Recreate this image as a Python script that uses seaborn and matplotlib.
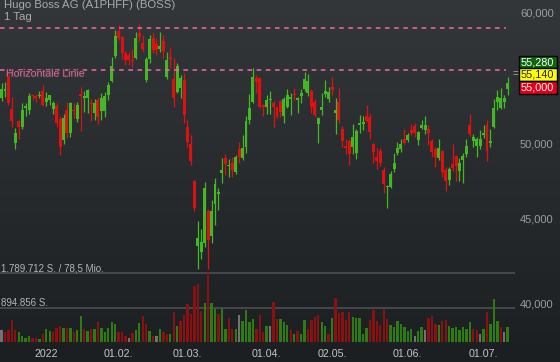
import numpy as np
import pandas as pd
import seaborn as sns
import matplotlib.pyplot as plt
from matplotlib.colors import LinearSegmentedColormap
from matplotlib.patches import Rectangle
from matplotlib.ticker import NullLocator
import matplotlib.patheffects as pe

# Hugo Boss AG, daily candles Dec 2021 - Jul 2022
open_ = [53280, 53810, 54990, 52420, 50000, 51580, 51170, 52500, 52370, 53440,
         53350, 53400, 53800, 52960, 53080, 52420, 52670, 51700, 50230, 52370,
         50740, 52350, 51700, 53550, 53290, 53220, 52910, 52120, 53110, 52300,
         52300, 53480, 54530, 56460, 58460, 57950, 56670, 56540, 56150, 56280,
         58270, 57520, 54610, 56200, 57870, 57410, 56990, 57680, 54860, 56360,
         54660, 53720, 53980, 54610, 51170, 49950, 47440, 43340, 43000, 43500,
         45500, 43950, 45950, 46610, 48000, 49020, 48450, 48630, 48010, 49600,
         49020, 49760, 51650, 52980, 54780, 54780, 52740, 52610, 53080, 52910,
         52570, 53030, 51940, 52610, 53160, 53500, 53140, 53400, 53900, 53650,
         53800, 52980, 51360, 52370, 53550, 53160, 54100, 52180, 52980, 50980,
         49740, 50180, 49720, 49350, 51290, 51360, 51940, 51890, 49950, 49080,
         49490, 48180, 47050, 47030, 48220, 49310, 49580, 50300, 50230, 50930,
         51220, 50230, 51100, 50930, 50980, 50180, 49580, 48970, 49490, 48180,
         47510, 48580, 49120, 48130, 48850, 49260, 51290, 50180, 49810, 49810,
         50580, 51290, 50000, 51170, 52980, 52500, 52980, 53900]
high = [54380, 54450, 55140, 53350, 51060, 51650, 52860, 52910, 53600, 53550,
        53550, 53810, 54230, 53700, 53500, 53030, 52890, 51940, 52050, 52980,
        52980, 52890, 52980, 54040, 53800, 53900, 53180, 53160, 53350, 53650,
        53720, 54480, 56360, 58540, 58950, 58050, 56850, 56750, 56990, 58400,
        59030, 58140, 56360, 58140, 58270, 57870, 58400, 58140, 56800, 57200,
        56280, 55890, 54990, 55120, 51650, 50580, 47500, 44880, 44360, 47400,
        45600, 46210, 47620, 46970, 48970, 49260, 48920, 49080, 49190, 50060,
        50550, 51940, 53530, 55560, 54990, 54830, 52810, 53480, 53800, 53050,
        52670, 53100, 53350, 53900, 53600, 53980, 53350, 53900, 55240, 55060,
        53900, 53160, 51890, 53600, 54610, 54100, 54860, 53220, 53980, 51220,
        50280, 50280, 51360, 50980, 52010, 51940, 52740, 52080, 50000, 49670,
        49650, 48360, 47180, 48130, 49350, 50110, 50280, 50980, 50740, 51360,
        51460, 50890, 51650, 51940, 51290, 50280, 49720, 50280, 49550, 48360,
        48400, 49950, 49190, 48970, 49350, 50280, 52080, 50650, 50420, 50930,
        51290, 51650, 50980, 53160, 53850, 53980, 53480, 54810]
low = [53030, 53330, 52740, 51170, 49600, 50300, 50970, 51940, 52080, 53110,
       52980, 53260, 52630, 52700, 52740, 52100, 51180, 49190, 49920, 50370,
       50460, 51790, 51470, 50860, 52250, 52160, 51580, 51680, 51360, 51650,
       51890, 53110, 54480, 56280, 57730, 56200, 55760, 55760, 55630, 56200,
       57680, 56800, 54480, 55940, 56720, 56540, 56800, 56280, 54660, 55500,
       52570, 53650, 53230, 51410, 49720, 48510, 45500, 41950, 42550, 43300,
       41950, 43500, 44630, 45570, 47330, 47840, 47680, 47730, 47910, 48630,
       48850, 49330, 51360, 52890, 53600, 52500, 51940, 52060, 52080, 51130,
       51790, 51890, 51410, 52500, 52010, 53110, 52180, 52910, 53800, 53400,
       52130, 51890, 50000, 52010, 53350, 52980, 53480, 50650, 51410, 49720,
       49260, 48510, 49260, 48900, 50700, 50930, 51530, 50280, 48630, 48230,
       48450, 46680, 45680, 46970, 48060, 49190, 49420, 49920, 50110, 50580,
       50460, 49880, 50980, 50650, 49880, 49080, 48360, 48850, 47690, 46810,
       47180, 48130, 47460, 47460, 47290, 49080, 50510, 49760, 49040, 49580,
       50350, 48800, 49720, 51060, 52370, 52420, 52500, 53480]
close = [53900, 53850, 52910, 51600, 50700, 51170, 52370, 52670, 53400, 53370,
         53290, 53480, 52740, 53220, 53480, 52860, 51410, 49710, 51820, 50720,
         52910, 52300, 52740, 53370, 53330, 53850, 52810, 52890, 51890, 53260,
         53400, 54230, 55680, 58050, 57870, 56720, 56150, 56150, 56070, 57870,
         58000, 56990, 56230, 57810, 56930, 56930, 57250, 56880, 56150, 56200,
         53230, 55680, 54740, 52010, 50110, 48800, 45710, 43810, 43580, 46980,
         43690, 45500, 47270, 46640, 48180, 48580, 48480, 48180, 49080, 49080,
         49670, 51580, 52540, 54860, 54480, 52610, 52570, 53110, 53110, 52570,
         51840, 52230, 53160, 53480, 53350, 53460, 53170, 53650, 54680, 54530,
         52570, 52010, 51770, 52570, 53780, 53720, 53850, 52370, 51650, 50180,
         49700, 49260, 50420, 50880, 51460, 51530, 51600, 50810, 49420, 48800,
         48670, 47250, 47070, 47910, 48630, 49650, 49950, 50000, 50580, 50740,
         50740, 50810, 51290, 51290, 50740, 49420, 49080, 49650, 48060, 47460,
         48220, 48290, 48450, 48670, 49120, 49810, 50650, 50460, 50280, 50280,
         50740, 49490, 50180, 52540, 53350, 53230, 53230, 54360]
volume = [323000, 270000, 305000, 567000, 305000, 253000, 166000, 113000, 166000, 113000,
          96000, 78000, 218000, 340000, 288000, 253000, 375000, 427000, 375000, 358000,
          358000, 253000, 305000, 672000, 340000, 288000, 340000, 340000, 532000, 358000,
          270000, 375000, 515000, 480000, 270000, 253000, 148000, 113000, 235000, 323000,
          497000, 672000, 480000, 288000, 166000, 166000, 340000, 270000, 218000, 218000,
          794000, 410000, 549000, 706000, 977000, 741000, 1457000, 1500000, 802000, 1003000,
          1789712, 1029000, 855000, 724000, 863000, 349000, 619000, 349000, 349000, 715000,
          549000, 846000, 515000, 593000, 349000, 698000, 262000, 410000, 410000, 1047000,
          611000, 611000, 523000, 436000, 305000, 218000, 288000, 201000, 584000, 349000,
          567000, 654000, 715000, 523000, 410000, 218000, 637000, 1151000, 759000, 785000,
          584000, 785000, 654000, 637000, 637000, 201000, 375000, 584000, 829000, 549000,
          436000, 872000, 611000, 436000, 392000, 541000, 480000, 392000, 288000, 349000,
          148000, 279000, 392000, 305000, 637000, 672000, 462000, 436000, 541000, 584000,
          427000, 375000, 392000, 323000, 392000, 349000, 515000, 340000, 305000, 201000,
          349000, 785000, 462000, 1108000, 541000, 392000, 270000, 392000]

holidays = ["2021-12-24", "2021-12-31", "2022-04-15", "2022-04-18"]
hline_levels = [58680, 55350]
price_ticks = [40000, 45000, 50000, 55000, 60000]
quote_values = [55280, 55140, 55000]
vol_max = 1789712
turnover_label = "78,5 Mio."

days = pd.bdate_range("2021-12-13", "2022-07-12")
days = days[~days.isin(pd.to_datetime(holidays))]

df = pd.DataFrame({"date": days, "open": open_, "high": high, "low": low,
                   "close": close, "volume": volume})
df["idx"] = np.arange(len(df))
chg = df["close"].diff()
df["dir"] = np.where(chg > 0, "up", np.where(chg < 0, "down", "flat"))

GREEN = "#42b822"
RED = "#e01010"
candle_col = np.where(df["close"] >= df["open"], GREEN, RED)

sns.set_theme(style="dark")
plt.rcParams["font.family"] = ["Liberation Sans", "DejaVu Sans"]

fig = plt.figure(figsize=(5.6, 3.62), dpi=100)

# dark gradient background
bg = fig.add_axes([0, 0, 1, 1], zorder=0)
grad = np.linspace(0, 1, 256).reshape(-1, 1)
cmap = LinearSegmentedColormap.from_list("bg", ["#33373a", "#1c1f22"])
bg.imshow(grad, aspect="auto", cmap=cmap, extent=[0, 1, 0, 1], origin="upper")
bg.axis("off")

rect = [0, 20 / 362, 515 / 560, 342 / 362]
xlim = (-0.45, 149.13)

# volume pane
axv = fig.add_axes(rect, zorder=1)
axv.patch.set_alpha(0)
sns.barplot(data=df, x="idx", y="volume", hue="dir", dodge=False, width=0.68,
            palette={"up": "#2e7a13", "down": "#8a1111", "flat": "#727272"},
            saturation=1, legend=False, linewidth=0, edgecolor="none", ax=axv)
axv.set_xlim(*xlim)
axv.set_ylim(0, vol_max * 342 / 68.7)
for v in [vol_max, vol_max / 2]:
    axv.axhline(v, color="#474b4f", lw=1.3, zorder=0)
lab_max = f"{vol_max:,}".replace(",", ".") + " S. / " + turnover_label
lab_half = f"{vol_max // 2:,}".replace(",", ".") + " S."
for v, s in [(vol_max, lab_max), (vol_max / 2, lab_half)]:
    axv.annotate(s, xy=(1 / 515, v), xycoords=("axes fraction", "data"),
                 xytext=(0, 1.2), textcoords="offset points",
                 va="baseline", ha="left", fontsize=7, color="#b4b4b4")

firsts = df[df["date"].dt.year == 2022].groupby(df["date"].dt.month).head(1)
tick_pos = firsts["idx"].tolist()
tick_lab = [str(d.year) if d.month == 1 else d.strftime("%d.%m.") for d in firsts["date"]]
axv.set_xticks(tick_pos, tick_lab)
axv.set_yticks([])
axv.set_xlabel("")
axv.set_ylabel("")
axv.tick_params(axis="x", length=0, pad=5, labelsize=7.7, labelcolor="#c4c4c4")
for sp in axv.spines.values():
    sp.set_visible(False)

# price pane (log scale)
ax = fig.add_axes(rect, zorder=2)
ax.patch.set_alpha(0)
ax.set_yscale("log")
ax.vlines(df["idx"], df["low"], df["high"], colors=candle_col, lw=0.9)
body_lo = np.minimum(df["open"], df["close"])
body_h = np.maximum((df["open"] - df["close"]).abs(), df["close"] * 0.0018)
ax.bar(df["idx"], body_h, bottom=body_lo, width=0.86, color=candle_col, linewidth=0)

for lvl in hline_levels:
    ax.axhline(lvl, xmin=0, xmax=506 / 515, color="#f06aa8", lw=1.1,
               linestyle=(0, (3, 3)))
ax.annotate("Horizontale Linie", xy=(6 / 515, hline_levels[1]),
            xycoords=("axes fraction", "data"), xytext=(0, 1.2),
            textcoords="offset points", va="top", ha="left", fontsize=7.6,
            color="#e0649f",
            path_effects=[pe.withStroke(linewidth=1.2, foreground="#3a3a3a")])

ax.set_xlim(*xlim)
ax.set_ylim(37919, 61036)
ax.set_xticks([])
ax.yaxis.tick_right()
ax.set_yticks(price_ticks, [f"{v:,}" for v in price_ticks])
ax.yaxis.set_minor_locator(NullLocator())
ax.tick_params(axis="y", length=0, pad=3.6, labelsize=8, labelcolor="#9c9c9c")
ax.grid(False)
for sp in ax.spines.values():
    sp.set_visible(False)

# titles
fig.text(4 / 560, 1.0, "Hugo Boss AG (A1PHFF) (BOSS)", va="top", ha="left",
         fontsize=8.2, color="#a9a9a9")
fig.text(4 / 560, 1 - 11.5 / 362, "1 Tag", va="top", ha="left",
         fontsize=8.2, color="#a9a9a9")

# quote boxes
box_style = [("#0b690b", "white"), ("#ffff00", "#222222"), ("#e4001a", "white")]
top = 55.7
for val, (fc, tc) in zip(quote_values, box_style):
    y0 = 1 - (top + 12.6) / 362
    fig.patches.append(Rectangle((518.5 / 560, y0), 38 / 560, 12.6 / 362,
                                 transform=fig.transFigure, facecolor=fc,
                                 edgecolor="black", lw=1.0, zorder=5))
    fig.text(537.5 / 560, y0 + 6.0 / 362, f"{val:,}", ha="center", va="center",
             fontsize=7.8, color=tc, zorder=6)
    top += 12.6
fig.text(515.5 / 560, 1 - 73.8 / 362, "=", ha="center", va="center",
         fontsize=7, color="#aaaaaa")

fig.savefig("out.png", dpi=100)
